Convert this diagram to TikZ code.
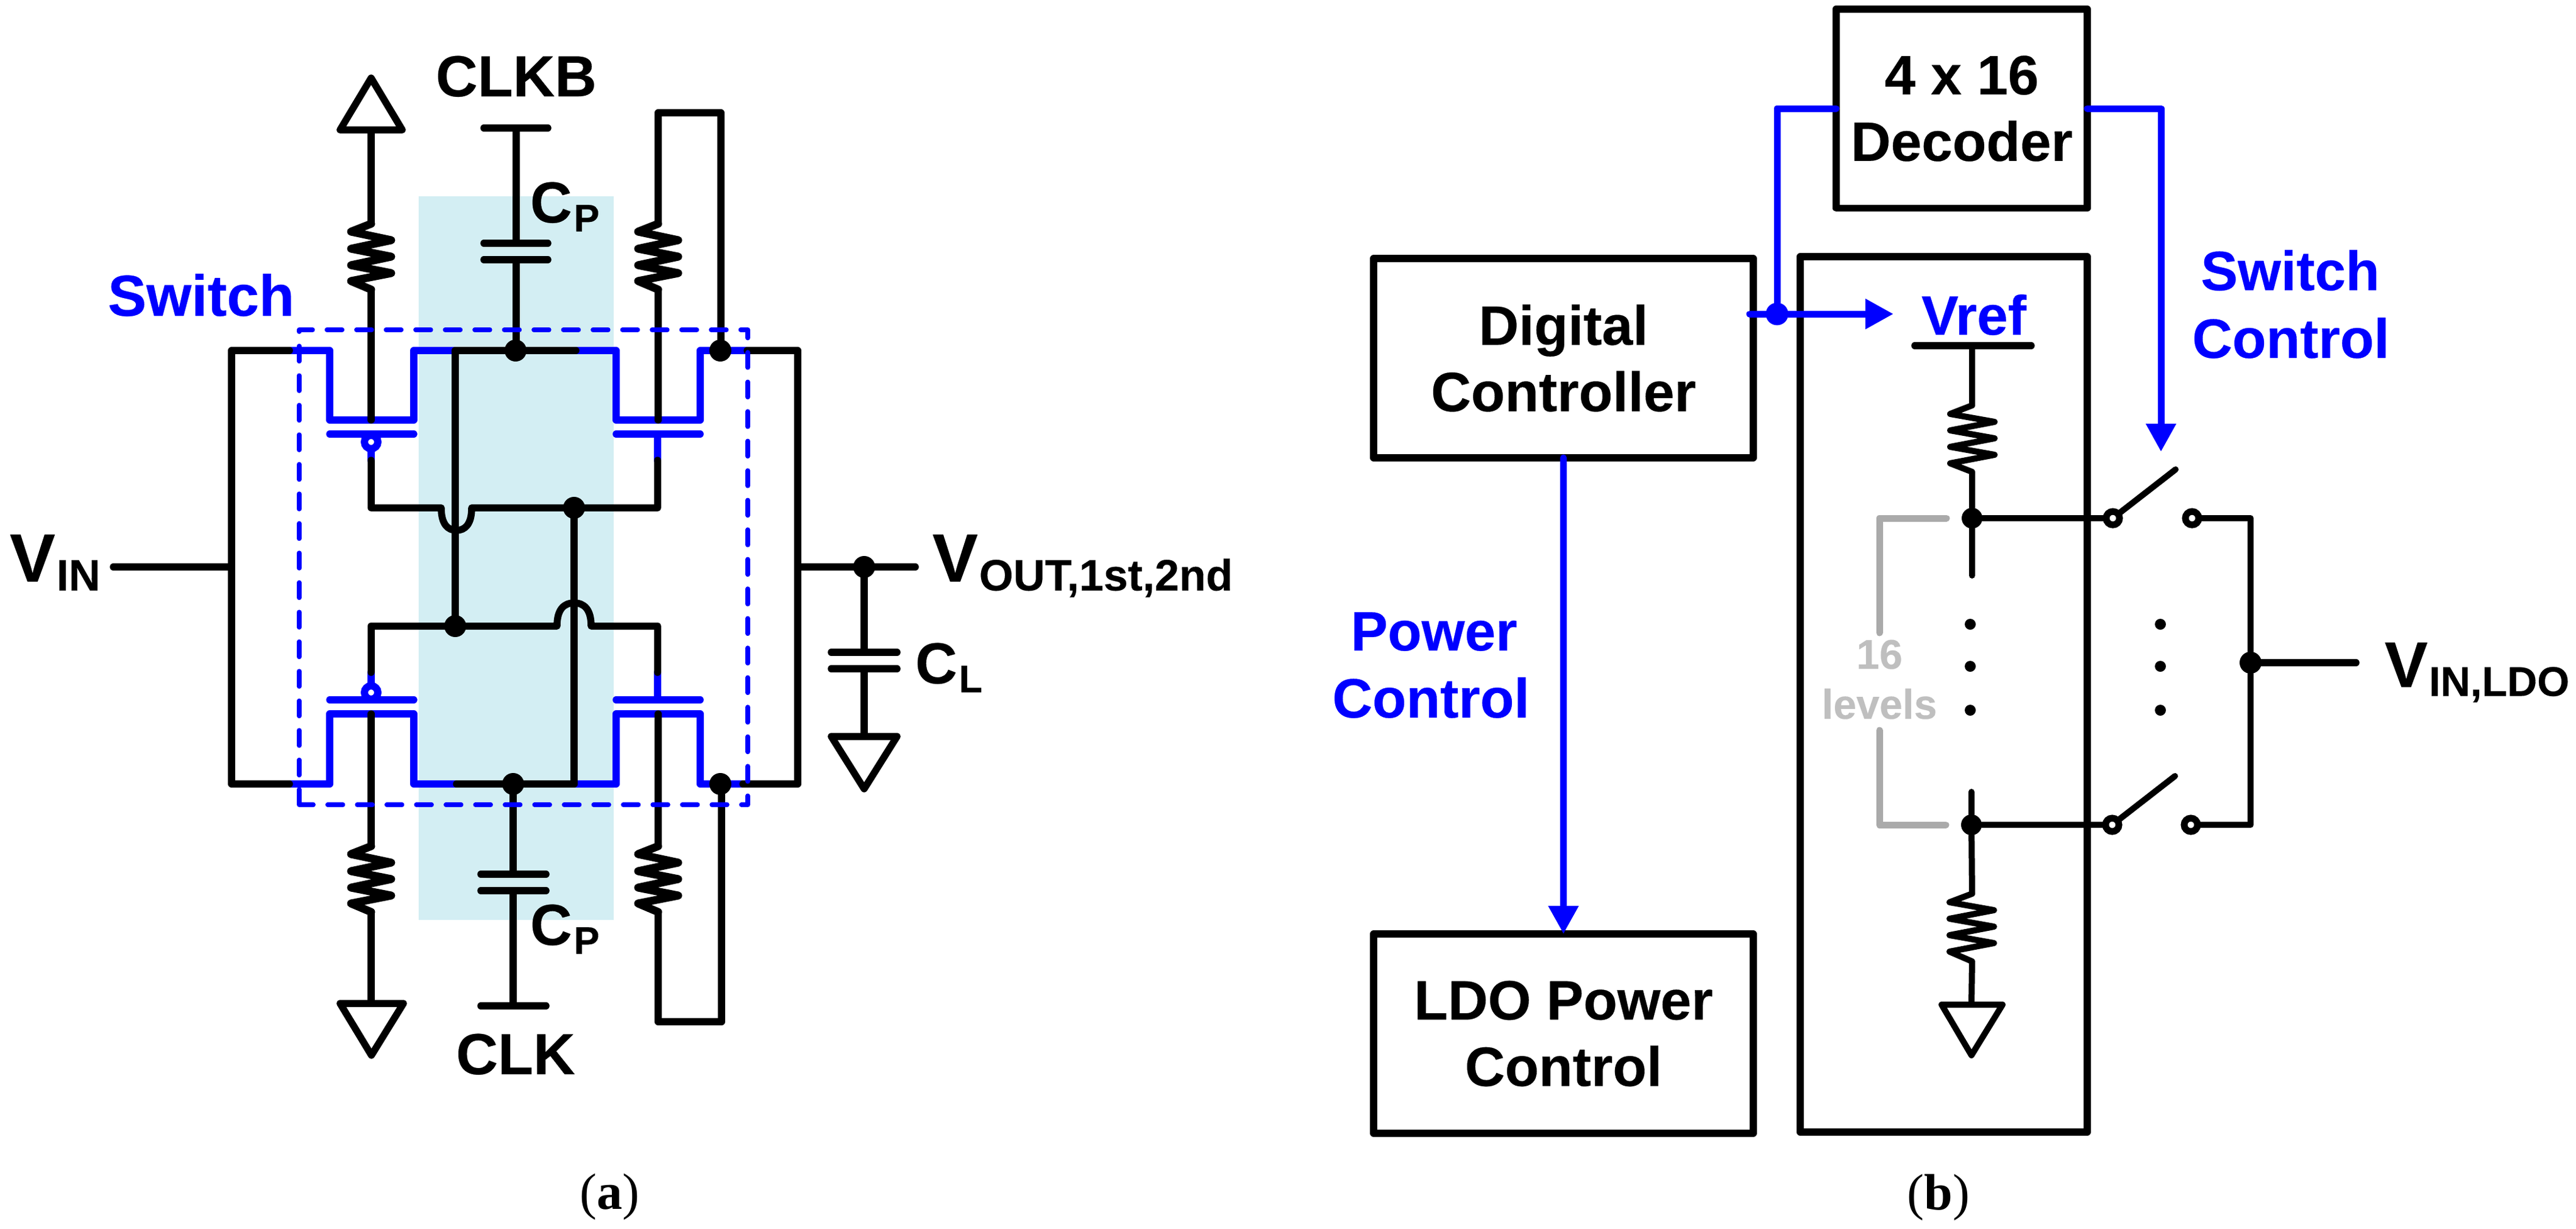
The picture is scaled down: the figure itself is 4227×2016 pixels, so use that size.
\documentclass[tikz,border=0pt]{standalone}
\usepackage{fontspec}
\usetikzlibrary{arrows.meta}
\setmainfont{Liberation Sans}[BoldFeatures={FakeBold=0.25}]
\newfontfamily\capfont{Liberation Serif}
\definecolor{palecyan}{HTML}{D3EEF3}
\definecolor{lvgrey}{HTML}{AAAAAA}
\definecolor{lvtext}{HTML}{BFBFBF}
\newcommand{\ckRes}[1]{\draw[wire,line width=1.3pt] (#1) -- ++(-33,13) -- ++(66,14) -- ++(-66,14) -- ++(66,13) -- ++(-66,14) -- ++(66,13) -- ++(-66,13) -- ++(33,14)}
\newcommand{\ckLab}[5]{\fontsize{#2}{#2}\selectfont #1\kern#5\raisebox{-1.45pt}{\fontsize{#4}{#4}\selectfont #3}}
\tikzset{
  wire/.style={black,line width=1.15pt,line cap=round,line join=round},
  bwire/.style={blue,line width=1.15pt,line cap=round,line join=round},
  thin wire/.style={wire,line width=1pt},
  bline/.style={blue,line width=1.1pt,line cap=round,line join=round},
  garrow/.style={bline,-{Triangle[length=4.6pt,width=4.7pt]}},
  dash box/.style={blue,line width=.75pt,line cap=round,line join=round,dash pattern=on 2.5pt off 2.35pt},
  grey wire/.style={lvgrey,line width=1.1pt,line cap=round,line join=round},
  dot/.style={circle,fill=black,inner sep=0,outer sep=0,minimum size=3.6pt},
  bdot/.style={circle,fill=blue,inner sep=0,outer sep=0,minimum size=3.7pt},
  tiny dot/.style={circle,fill=black,inner sep=0,outer sep=0,minimum size=1.8pt},
  open dot/.style={circle,draw=black,fill=white,line width=1.1pt,inner sep=0,outer sep=0,minimum size=2.2pt},
  bub/.style={circle,draw=blue,fill=white,line width=1.2pt,inner sep=0,outer sep=0,minimum size=2.2pt},
  box/.style={draw=black,line width=1.15pt,line join=round,inner sep=0,outer sep=0,align=center,
    font=\fontsize{9.1}{10.9}\selectfont\bfseries},
  lab/.style={inner sep=0,outer sep=0,anchor=base,font=\fontsize{9.5}{11}\selectfont\bfseries},
  labw/.style={lab,anchor=base west},
  blab/.style={lab,text=blue,font=\fontsize{9.1}{11.1}\selectfont\bfseries},
  captxt/.style={inner sep=0,outer sep=0,anchor=base,font=\capfont\fontsize{8.4}{10}\selectfont},
}
\begin{document}
\begin{tikzpicture}[x=0.1pt,y=-0.1pt]
\useasboundingbox (0,0) rectangle (4227,2016);
% ---------- panel (a): background
\fill[palecyan] (687,322) rectangle (1007,1509);
% key coordinates
\coordinate (tlA) at (380,575); \coordinate (blA) at (380,1286);
\coordinate (trA) at (1309,575); \coordinate (brA) at (1309,1286);
\coordinate (ut1) at (475,575); \coordinate (ut2) at (747,575); \coordinate (ut3) at (945,575); \coordinate (ut4) at (1226,575);
\coordinate (lb1) at (475,1286); \coordinate (lb2) at (749,1286); \coordinate (lb3) at (942,1286); \coordinate (lb4) at (1219,1286);
% ---------- blue transistors
\draw[bwire] (ut1) -- (541,575) -- (541,689) -- (679,689) -- (679,575) -- (ut2);
\draw[bwire] (ut3) -- (1011,575) -- (1011,689) -- (1149,689) -- (1149,575) -- (ut4);
\draw[bwire] (lb1) -- (541,1286) -- (541,1171) -- (679,1171) -- (679,1286) -- (lb2);
\draw[bwire] (lb3) -- (1011,1286) -- (1011,1171) -- (1149,1171) -- (1149,1286) -- (lb4);
\draw[bwire] (541,712) -- (679,712); \draw[bwire] (1011,712) -- (1149,712);
\draw[bwire] (541,1148) -- (679,1148); \draw[bwire] (1011,1148) -- (1149,1148);
\draw[bwire] (609,712) -- (609,755); \draw[bwire] (1079,712) -- (1079,755);
\draw[bwire] (609,1148) -- (609,1103); \draw[bwire] (1079,1148) -- (1079,1103);
\node[bub] (bu1) at (609,725) {};
\node[bub] (bu2) at (609,1136) {};
% ---------- black wiring
\draw[wire] (ut1) -- (tlA) -- (blA) -- (lb1);
\draw[wire] (ut4) -- (trA) -- (brA) -- (lb4);
\draw[wire] (ut2) -- (ut3);
\draw[wire] (lb2) -- (lb3);
\coordinate (vm1) at (747,1027); \coordinate (vm2) at (942,833);
\draw[wire] (ut2) -- (vm1);
\draw[wire] (vm2) -- (lb3);
\draw[wire] (609,755) -- (609,833) -- (724,833) .. controls (724,860) and (735,870) .. (749,870) .. controls (763,870) and (774,860) .. (774,833) -- (1079,833) -- (1079,755);
\draw[wire] (609,1103) -- (609,1027) -- (914,1027) .. controls (914,1000) and (925,989) .. (942,989) .. controls (959,989) and (970,1000) .. (970,1027) -- (1079,1027) -- (1079,1103);
% upper resistors and rails
\coordinate (rt1) at (609,367); \coordinate (rt2) at (1080,367);
\coordinate (rl1) at (609,1388); \coordinate (rl2) at (1080,1388);
\ckRes{rt1};
\ckRes{rt2};
\ckRes{rl1};
\ckRes{rl2};
\draw[wire] (609,475) -- (609,689);
\draw[wire] (1080,475) -- (1080,689);
\draw[wire] (609,1171) -- (rl1);
\draw[wire] (1080,1171) -- (rl2);
\draw[wire] (rt2) -- (1080,185) -- (1183,185) -- (1183,575);
\draw[wire] (1080,1496) -- (1080,1676) -- (1184,1676) -- (1184,1286);
\draw[wire] (609,1496) -- (609,1646);
\draw[wire] (609,213) -- (rt1);
% supply triangles
\draw[wire,fill=white] (558,213) -- (660,213) -- (609,128) -- cycle;
\draw[wire,fill=white] (558,1646) -- (662,1646) -- (609.5,1731) -- cycle;
% coupling caps
\draw[wire] (794,210) -- (899,210); \draw[wire] (847,210) -- (847,399);
\draw[wire] (794,399) -- (899,399); \draw[wire] (794,426) -- (899,426);
\draw[wire] (847,426) -- (847,575);
\draw[wire] (842,1286) -- (842,1434);
\draw[wire] (789,1434) -- (896,1434); \draw[wire] (789,1461) -- (896,1461);
\draw[wire] (842,1461) -- (842,1650); \draw[wire] (789,1650) -- (896,1650);
% dots
\node[dot] (d1) at (846,575) {};
\node[dot] (d2) at (1182,575) {};
\node[dot] (d3) at (942,833) {};
\node[dot] (d4) at (747,1027) {};
\node[dot] (d5) at (842,1286) {};
\node[dot] (d6) at (1182,1286) {};
% input / output
\coordinate (vinw) at (186,930);
\coordinate (voute) at (1502,930);
\draw[wire] (vinw) -- (380,930);
\draw[wire] (1309,930) -- (voute);
\node[dot] (d7) at (1418,930) {};
\draw[wire] (d7) -- (1418,1070);
\draw[wire] (1364,1070) -- (1472,1070); \draw[wire] (1364,1097) -- (1472,1097);
\draw[wire] (1418,1097) -- (1418,1208);
\draw[wire,fill=white] (1364,1208) -- (1472,1208) -- (1418,1294) -- cycle;
% dashed box
\draw[dash box] (491,1320) -- (491,541) -- (1227,541) -- (1227,1320) -- cycle;
% labels panel a
\node[lab] (lclkb) at (847,158) {CLKB};
\node[lab] (lclk) at (846,1762) {CLK};
\node[labw] (lcpt) at (870,365) {\bfseries\ckLab{C}{9.5}{P}{6.3}{0.3pt}};
\node[labw] (lcpb) at (870,1550) {\bfseries\ckLab{C}{9.5}{P}{6.3}{0.3pt}};
\node[labw] (lcl) at (1502,1121) {\bfseries\ckLab{C}{9.5}{L}{6.3}{0.3pt}};
\node[lab,text=blue] (lsw) at (330,518) {Switch};
\node[labw] (lvin) at (16,954) {\ckLab{V}{11.2}{IN}{7.2}{0.2pt}};
\node[labw] (lvout) at (1530,954) {\ckLab{V}{11.2}{OUT,1st,2nd}{7.2}{0.2pt}};
\node[captxt] (capa) at (1000,1983) {(\textbf{a})};
% ---------- panel (b)
\node[box,minimum width=41.2pt,minimum height=32.65pt] (dec) at (3219,178) {4 x 16\\Decoder};
\node[box,minimum width=62.3pt,minimum height=32.7pt] (dig) at (2565.5,587.5) {Digital\\Controller};
\node[box,minimum width=62.3pt,minimum height=32.7pt] (ldo) at (2565.5,1695.5) {LDO Power\\Control};
\node[draw=black,line width=1.15pt,line join=round,inner sep=0,outer sep=0,minimum width=47.1pt,minimum height=143.6pt] (ref) at (3189.5,1139) {};
% blue routing
\node[bdot] (bd) at (2916,515) {};
\coordinate (refst) at (2871,515); \coordinate (reftip) at (3107,515);
\coordinate (swtip) at (3546,741);
\draw[bline] (dec.west) -| (bd);
\draw[garrow] (refst) -- (reftip);
\draw[garrow] (dec.east) -| (swtip);
\draw[garrow] (dig.south) -- (ldo.north);
% ladder
\coordinate (vr) at (3236,567); \coordinate (r3) at (3236,665); \coordinate (r4) at (3236,1466);
\node[dot,minimum size=3.4pt] (t1) at (3236,850) {};
\node[dot,minimum size=3.4pt] (t2) at (3235,1353) {};
\draw[wire] (3142,567) -- (3333,567);
\draw[thin wire] (vr) -- (r3);
\draw[thin wire] (r3) -- ++(-36,14) -- ++(73,13) -- ++(-73,14) -- ++(73,13) -- ++(-73,14) -- ++(73,13) -- ++(-73,14) -- ++(36,14) -- (t1);
\draw[thin wire] (t1) -- (3236,944);
\draw[thin wire] (3235,1299) -- (t2) -- (r4);
\draw[thin wire] (r4) -- ++(-37,14) -- ++(73,13) -- ++(-73,14) -- ++(73,13) -- ++(-73,14) -- ++(73,13) -- ++(-73,14) -- ++(37,16) -- (3235,1648);
\draw[thin wire,fill=white] (3186,1648) -- (3286,1648) -- (3235,1731) -- cycle;
% grey bracket
\draw[grey wire] (3194,850) -- (3084,850) -- (3084,1038);
\draw[grey wire] (3084,1198) -- (3084,1353) -- (3193,1353);
% switches
\node[open dot] (sa1) at (3467,850) {};
\node[open dot] (sb1) at (3597,850) {};
\node[open dot] (sa2) at (3466,1353) {};
\node[open dot] (sb2) at (3595,1353) {};
\coordinate (bl1) at (3570,770); \coordinate (bl2) at (3569,1273);
\draw[thin wire] (t1) -- (sa1); \draw[thin wire] (t2) -- (sa2);
\draw[thin wire] (sa1) -- (bl1); \draw[thin wire] (sa2) -- (bl2);
\draw[thin wire] (sb1) -- (3693,850) -- (3693,1353) -- (sb2);
\node[dot] (out) at (3693,1087) {};
\coordinate (oute) at (3866,1087);
\draw[wire] (out) -- (oute);
% dotted runs
\foreach \n/\y in {a/1024,b/1093,c/1165}{
  \node[tiny dot] (ll\n) at (3233,\y) {};
  \node[tiny dot] (lr\n) at (3545,\y) {};
}
% labels panel b
\node[blab] (lvref) at (3239,549) {Vref};
\node[blab] (lpc1) at (2353,1067) {Power};
\node[blab] (lpc2) at (2348,1177) {Control};
\node[blab] (lsc1) at (3758,476) {Switch};
\node[blab] (lsc2) at (3759,587) {Control};
\node[lab,text=lvtext,font=\fontsize{6.8}{8}\selectfont\bfseries] (l16) at (3084,1097) {16};
\node[lab,text=lvtext,font=\fontsize{6.8}{8}\selectfont\bfseries] (llv) at (3084,1179) {levels};
\node[labw] (lvinl) at (3913,1127) {\ckLab{V}{10.6}{IN,LDO}{6.8}{0.2pt}};
\node[captxt] (capb) at (3181,1984) {(\textbf{b})};
\end{tikzpicture}
\end{document}
